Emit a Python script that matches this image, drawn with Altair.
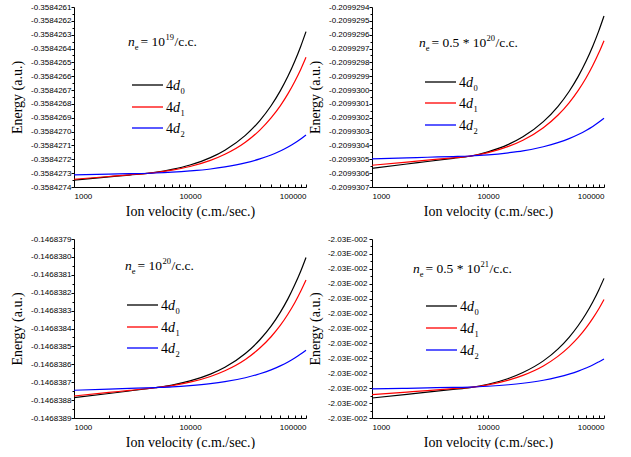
import json
import altair as alt
import pandas as pd

# ---------------- data ----------------
velocity = [1000, 2000, 3000, 5000, 7000, 10000, 15000, 20000, 30000,
            40000, 50000, 60000, 70000, 80000, 90000, 100000]

series_names = ["4d0", "4d1", "4d2"]
series_colors = ["#000000", "#ff0000", "#0000ff"]

x_major = [1000, 10000, 100000]
x_minor = [2000, 3000, 4000, 5000, 6000, 7000, 8000, 9000,
           20000, 30000, 40000, 50000, 60000, 70000, 80000, 90000]

# panel 1 : n_e = 10^19 /c.c.
p1_ticks = [-0.3584261, -0.3584262, -0.3584263, -0.3584264, -0.3584265, -0.3584266, -0.3584267,
            -0.3584268, -0.3584269, -0.3584270, -0.3584271, -0.3584272, -0.3584273, -0.3584274]
p1_d0 = [-0.35842735, -0.358427327, -0.358427314, -0.358427295, -0.358427273, -0.358427241,
         -0.358427188, -0.358427134, -0.358427027, -0.35842692, -0.358426813, -0.358426706,
         -0.358426599, -0.358426492, -0.358426385, -0.358426278]
p1_d1 = [-0.358427344, -0.358427324, -0.358427312, -0.358427296, -0.358427278, -0.358427252,
         -0.358427208, -0.358427164, -0.358427077, -0.358426989, -0.358426901, -0.358426814,
         -0.358426726, -0.358426638, -0.358426551, -0.358426463]
p1_d2 = [-0.358427313, -0.358427307, -0.358427304, -0.358427299, -0.358427293, -0.358427284,
         -0.35842727, -0.358427255, -0.358427226, -0.358427197, -0.358427169, -0.35842714,
         -0.358427111, -0.358427082, -0.358427053, -0.358427024]

# panel 2 : n_e = 0.5 * 10^20 /c.c.
p2_ticks = [-0.2099294, -0.2099295, -0.2099296, -0.2099297, -0.2099298, -0.2099299, -0.2099300,
            -0.2099301, -0.2099302, -0.2099303, -0.2099304, -0.2099305, -0.2099306, -0.2099307]
p2_d0 = [-0.209930565, -0.209930534, -0.209930516, -0.209930493, -0.209930478, -0.209930446,
         -0.209930392, -0.209930337, -0.209930228, -0.209930119, -0.20993001, -0.209929901,
         -0.209929792, -0.209929683, -0.209929574, -0.209929465]
p2_d1 = [-0.209930543, -0.20993052, -0.209930506, -0.209930489, -0.209930477, -0.209930452,
         -0.209930407, -0.209930362, -0.209930272, -0.209930182, -0.209930092, -0.209930002,
         -0.209929913, -0.209929823, -0.209929733, -0.209929643]
p2_d2 = [-0.209930497, -0.20993049, -0.209930485, -0.20993048, -0.209930476, -0.209930468,
         -0.209930453, -0.209930439, -0.209930409, -0.20993038, -0.209930351, -0.209930321,
         -0.209930292, -0.209930263, -0.209930233, -0.209930204]

# panel 3 : n_e = 10^20 /c.c.
p3_ticks = [-0.1468379, -0.1468380, -0.1468381, -0.1468382, -0.1468383, -0.1468384,
            -0.1468385, -0.1468386, -0.1468387, -0.1468388, -0.1468389]
p3_d0 = [-0.146838786, -0.146838763, -0.146838749, -0.146838731, -0.146838716, -0.146838693,
         -0.146838655, -0.146838617, -0.14683854, -0.146838463, -0.146838387, -0.14683831,
         -0.146838233, -0.146838156, -0.14683808, -0.146838003]
p3_d1 = [-0.146838777, -0.146838757, -0.146838746, -0.146838731, -0.146838719, -0.1468387,
         -0.146838668, -0.146838636, -0.146838573, -0.146838509, -0.146838446, -0.146838383,
         -0.146838319, -0.146838256, -0.146838192, -0.146838129]
p3_d2 = [-0.146838745, -0.146838739, -0.146838735, -0.14683873, -0.146838726, -0.146838719,
         -0.146838708, -0.146838697, -0.146838675, -0.146838653, -0.146838631, -0.146838609,
         -0.146838587, -0.146838565, -0.146838543, -0.146838521]

# panel 4 : n_e = 0.5 * 10^21 /c.c.  (all tick labels read "-2.03E-002";
# values given as position in tick steps above the lowest tick)
p4_ticks = [0, 1, 2, 3, 4, 5, 6, 7, 8, 9, 10, 11, 12]
p4_d0 = [1.34, 1.59, 1.74, 1.92, 2.04, 2.26, 2.65, 3.05, 3.83, 4.62, 5.41, 6.20, 6.99, 7.78, 8.57, 9.36]
p4_d1 = [1.57, 1.74, 1.84, 1.97, 2.05, 2.22, 2.54, 2.86, 3.49, 4.13, 4.77, 5.40, 6.04, 6.68, 7.31, 7.95]
p4_d2 = [1.95, 1.99, 2.02, 2.05, 2.07, 2.13, 2.23, 2.33, 2.53, 2.74, 2.94, 3.14, 3.35, 3.55, 3.76, 3.96]

SERIF = "Liberation Serif"
SANS = "Liberation Sans"
W = 232
one = pd.DataFrame({"k": [0]})


def txt(text, x, y, size=13, italic=False):
    return alt.Chart(one).mark_text(
        text=text, font=SERIF, fontSize=size, fontStyle="italic" if italic else "normal",
        align="left", baseline="alphabetic", color="black"
    ).encode(x=alt.value(x), y=alt.value(y))


def annotation(x0, b, middle, sup, mid_w):
    return [
        txt("n", x0, b, 13.5, True),
        txt("e", x0 + 6.8, b + 3.5, 8.5),
        txt(middle, x0 + 12.5, b, 13.5),
        txt(sup, x0 + 12.5 + mid_w, b - 6, 8.5),
        txt("/c.c.", x0 + 21.5 + mid_w, b, 13.5),
    ]


def legend(x1, x2, xt, ys):
    layers = []
    for (name, col, y) in zip(series_names, series_colors, ys):
        layers.append(alt.Chart(one).mark_rule(color=col, strokeWidth=1.3).encode(
            x=alt.value(x1), x2=alt.value(x2), y=alt.value(y)))
        layers.append(txt("4", xt, y + 5, 14))
        layers.append(txt("d", xt + 7, y + 5, 14, True))
        layers.append(txt(name[-1], xt + 14.5, y + 9, 8.5))
    return layers


def panel(energies, ticks, label_fmt, height, label_pad, annot, leg):
    rows = []
    for name, vals in zip(series_names, energies):
        for v, e in zip(velocity, vals):
            rows.append({"v": v, "E": e, "s": name})
    df = pd.DataFrame(rows)
    minor = [(a + b) / 2 for a, b in zip(ticks[:-1], ticks[1:])]
    ymaj = json.dumps(ticks)
    xmaj = json.dumps(x_major)
    xs = alt.Scale(type="log", domain=[1000, 100000], nice=False)
    ys = alt.Scale(domain=[min(ticks), max(ticks)], nice=False, zero=False)
    xax = alt.Axis(values=x_major + x_minor, tickSize=alt.ExprRef("-3"),
                   labelExpr=f"indexof({xmaj}, datum.value) >= 0 ? format(datum.value, 'd') : ''",
                   labelPadding=8, title="Ion velocity (c.m./sec.)", titlePadding=4)
    yax = alt.Axis(values=ticks + minor,
                   labelExpr=f"indexof({ymaj}, datum.value) >= 0 ? {label_fmt} : ''",
                   tickSize={"condition": {"test": f"indexof({ymaj}, datum.value) >= 0",
                                           "value": 3}, "value": 2},
                   labelPadding=label_pad, minExtent=45, maxExtent=45,
                   title="Energy (a.u.)", titlePadding=5)

    lines = alt.Chart(df).mark_line(strokeWidth=1.2, interpolate="monotone").encode(
        x=alt.X("v:Q", scale=xs, axis=xax),
        y=alt.Y("E:Q", scale=ys, axis=yax),
        color=alt.Color("s:N", scale=alt.Scale(domain=series_names, range=series_colors),
                        legend=None),
    )
    return alt.layer(lines, *annot, *leg).properties(width=W, height=height)


dec_fmt = "'-' + format(-datum.value, '.7f')"

c1 = panel([p1_d0, p1_d1, p1_d2], p1_ticks, dec_fmt, 180, 0,
           annotation(54, 39, "= 10", "19", 25), legend(58, 89, 92, [78, 100, 121]))
c2 = panel([p2_d0, p2_d1, p2_d2], p2_ticks, dec_fmt, 180, 0,
           annotation(47, 40, "= 0.5 * 10", "20", 55), legend(53, 84, 87, [75, 96, 118]))
c3 = panel([p3_d0, p3_d1, p3_d2], p3_ticks, dec_fmt, 179, 0,
           annotation(51, 31, "= 10", "20", 25), legend(53, 84, 87, [66, 88, 109]))
c4 = panel([p4_d0, p4_d1, p4_d2], p4_ticks, "'-2.03E-002'", 179, 2,
           annotation(41, 34, "= 0.5 * 10", "21", 55), legend(54, 85, 88, [67, 89, 111]))

chart = alt.concat(c1, c2, c3, c4, columns=2, spacing={"row": 52, "column": 66},
                   bounds="flush").properties(
    padding={"left": 10, "top": 3, "right": 0, "bottom": 0},
    background="white",
).configure_view(stroke=None).configure_axis(
    labelFont=SANS, labelFontSize=8, labelColor="black",
    titleFont=SERIF, titleFontSize=14, titleFontWeight="normal", titleColor="black",
    domainColor="black", tickColor="black", grid=False,
)

chart.save("out.html", embed_options={"renderer": "svg", "actions": False})
